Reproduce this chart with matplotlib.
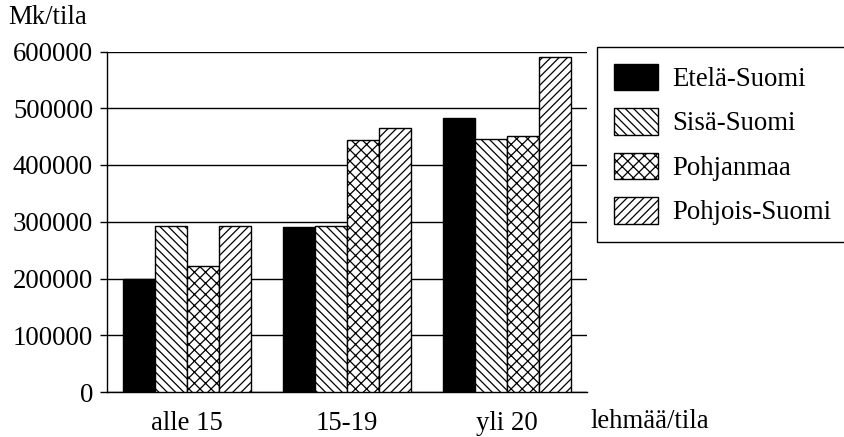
import numpy as np
import matplotlib
matplotlib.use('Agg')
import matplotlib.pyplot as plt

# data
categories = ['alle 15', '15-19', 'yli 20']
regions = ['Etelä-Suomi', 'Sisä-Suomi', 'Pohjanmaa', 'Pohjois-Suomi']
etela = [200000, 291000, 483000]
sisa = [292000, 293000, 446000]
pohjanmaa = [222000, 444000, 451000]
pohjois = [292000, 465000, 590000]
yticks = [0, 100000, 200000, 300000, 400000, 500000, 600000]

plt.rcParams['font.family'] = ['Liberation Serif', 'DejaVu Serif']
plt.rcParams['hatch.linewidth'] = 0.9
plt.rcParams['font.size'] = 19.3

fig = plt.figure(figsize=(8.45, 4.37), dpi=100)
ax = fig.add_axes([107 / 845, 1 - 392 / 437, 480 / 845, (392 - 51.5) / 437])

series = [etela, sisa, pohjanmaa, pohjois]
fills = ['black', 'white', 'white', 'white']
hatches = [None, '\\\\\\\\', 'xxx', '////']
x = np.arange(len(categories))
w = 0.2
for i, vals in enumerate(series):
    ax.bar(x - 0.3 + i * w, vals, w, color=fills[i], edgecolor='black',
           hatch=hatches[i], linewidth=1.0, label=regions[i], zorder=3)

ax.set_xlim(-0.5, 2.5)
ax.set_ylim(0, 600000)
ax.set_yticks(yticks)
ax.set_yticklabels([str(v) for v in yticks])
ax.set_xticks(x)
ax.set_xticklabels(categories)
ax.tick_params(axis='x', length=0, pad=14)
ax.tick_params(axis='y', length=5, width=1, pad=5, direction='out')
ax.yaxis.grid(True, color='black', linewidth=1.0, zorder=0)
ax.set_axisbelow(True)
for s in ['top', 'right']:
    ax.spines[s].set_visible(False)
ax.spines['left'].set_linewidth(1.0)
ax.spines['bottom'].set_linewidth(1.0)

fig.text(8 / 845, 1 - 18 / 437, 'Mk/tila', ha='left', va='center')
fig.text(590 / 845, 1 - 421 / 437, 'lehmää/tila', ha='left', va='center')

leg = ax.legend(loc='upper left', bbox_to_anchor=(597 / 845, 1 - 47 / 437),
                bbox_transform=fig.transFigure, borderaxespad=0,
                fancybox=False, framealpha=1, edgecolor='black',
                handlelength=1.65, handleheight=1.15, handletextpad=0.55,
                labelspacing=0.6, borderpad=0.62)
leg.get_frame().set_linewidth(1.0)

fig.savefig('out.png', dpi=100)
